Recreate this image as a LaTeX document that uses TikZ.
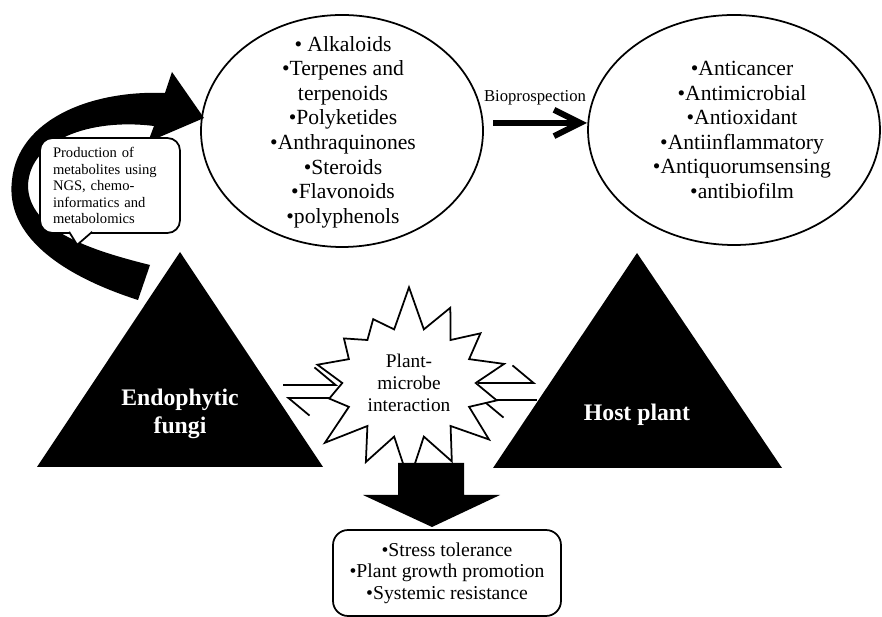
\documentclass[tikz,border=0pt]{standalone}
\usepackage{fontspec}
\setmainfont{Liberation Serif}
\usetikzlibrary{arrows.meta, shapes.symbols}

\begin{document}
\begin{tikzpicture}[x = 0.02cm, y = -0.02cm]

	% Definitions
	
	\def\lw{1pt}		% Outline width
	\def\thick{3.4pt}	% Width of the Bioprospection arrow
	
	\tikzset{
		listtext/.style = {align = center, font = \fontsize{12.3}{14}\selectfont},
		trilabel/.style = {text = white, align = center, font = \fontsize{13.5}{16}\selectfont\bfseries},
		harp/.style = {line width = \lw, -{Straight Barb[harpoon, length = 12pt, width = 20pt]}},
		roundbox/.style = {draw, fill = white, line width = \lw},
	}
	
	\useasboundingbox (0, 0) rectangle (882, 617);
	
	% Curved block arrow on the left
	
	\fill (138, 300) .. controls (60, 275) and (5, 235) .. (12, 180)
		.. controls (18, 120) and (90, 90) .. (165, 93)
		-- (172, 72) -- (204, 118) -- (148, 142) -- (154, 126)
		.. controls (90, 118) and (30, 140) .. (28, 185)
		.. controls (28, 230) and (90, 250) .. (150, 265) -- cycle;
	
	% Metabolites
	
	\draw [line width = \lw] (342, 131) circle [x radius = 141, y radius = 116];
	\node (chem) [listtext] at (343, 132) {\textbullet\ Alkaloids\\ \textbullet Terpenes and\\ terpenoids\\ \textbullet Polyketides\\
		\textbullet Anthraquinones\\ \textbullet Steroids\\ \textbullet Flavonoids\\ \textbullet polyphenols};
	
	% Activities
	
	\draw [line width = \lw] (734, 130) circle [x radius = 146, y radius = 115];
	\node (bio) [listtext] at (742, 130) {\textbullet Anticancer\\ \textbullet Antimicrobial\\ \textbullet Antioxidant\\
		\textbullet Antiinflammatory\\ \textbullet Antiquorumsensing\\ \textbullet antibiofilm};
	
	% Bioprospection arrow from one ellipse to the other
	
	\coordinate (bp1) at (493, 123);
	\coordinate (bp2) at (587, 123);
	\draw [line width = \thick, -{Straight Barb[length = 15pt, width = 15pt]}] (bp1) -- (bp2)
		node [midway, above = 5pt, xshift = -0.1cm, font = \fontsize{9.5}{11}\selectfont] {Bioprospection};
	
	% Callout over the curved arrow
	
	\node (prod) [roundbox, rounded corners = 0.25cm, minimum width = 2.8cm, minimum height = 1.9cm,
		text width = 2.28cm, inner xsep = 0.26cm, align = left, font = \fontsize{8.3}{9.4}\selectfont]
		at (110, 185.5) {Production of\\ metabolites using\\ NGS, chemo-\\ informatics and\\ metabolomics};
	\filldraw [fill = white, line width = \lw] (prod.south west) ++(30, -2) -- ++(8, 13) -- ++(15, -13);
	
	% The two partners
	
	\fill (180, 252) -- (323, 467) -- (37, 467) -- cycle;
	\node (fungi) [trilabel] at (180, 414) {Endophytic\\ fungi};
	
	\fill (637, 253) -- (782, 468) -- (493, 468) -- cycle;
	\node (host) [trilabel] at (637, 415) {Host plant};
	
	% Exchange arrows
	
	\coordinate (fu1) at (283, 385);
	\coordinate (fu2) at (286, 398);
	\coordinate (st1) at (338, 385);
	\coordinate (st2) at (340, 398);
	\coordinate (st3) at (478, 383);
	\coordinate (st4) at (480, 400);
	\coordinate (ho1) at (536, 383);
	\coordinate (ho2) at (537, 400);
	
	\draw [harp] (fu1) -- (st1);
	\draw [harp] (st2) -- (fu2);
	\draw [harp] (st3) -- (ho1);
	\draw [harp] (ho2) -- (st4);
	
	% Interaction
	
	\node (star) [starburst, draw, fill = white, line width = \lw, starburst points = 14,
		starburst point height = 0.9cm, random starburst = 7, minimum width = 4.3cm, minimum height = 4cm,
		align = center, font = \fontsize{11}{12.5}\selectfont] at (409, 383) {Plant-\\ microbe\\ interaction};
	
	% Outcome
	
	\fill (398, 463) -- (464, 463) -- (464, 495) -- (500, 495) -- (432, 527) -- (363, 495) -- (398, 495) -- cycle;
	
	\node (effects) [roundbox, rounded corners = 0.3cm, minimum width = 4.56cm, minimum height = 1.72cm,
		align = center, font = \fontsize{11.2}{12.2}\selectfont] at (447, 573)
		{\textbullet Stress tolerance\\ \textbullet Plant growth promotion\\ \textbullet Systemic resistance};
	
\end{tikzpicture}
\end{document}
